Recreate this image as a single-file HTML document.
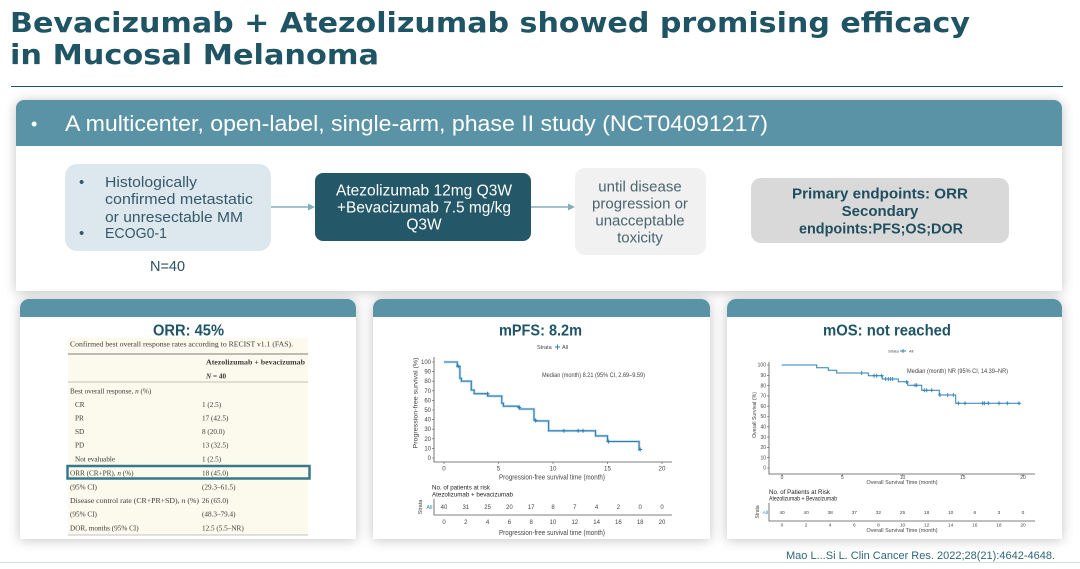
<!DOCTYPE html>
<html>
<head>
<meta charset="utf-8">
<style>
*{margin:0;padding:0;box-sizing:border-box}
html,body{width:1080px;height:569px;background:#ffffff;overflow:hidden}
body{position:relative;font-family:"Liberation Sans",sans-serif}
.abs{position:absolute}
.panel{position:absolute;background:#fff;box-shadow:0 1px 12px rgba(0,0,0,0.24);border-radius:9px 9px 0 0}
.hdr{position:absolute;left:0;top:0;right:0;background:#5b93a6;border-radius:9px 9px 0 0}
svg{position:absolute;left:0;top:0}
</style>
</head>
<body>
<!-- title underline -->
<div class="abs" style="left:11px;top:85.5px;width:1052px;height:1.6px;background:#1f5464"></div>

<!-- top panel -->
<div class="panel" style="left:16px;top:100px;width:1046px;height:191px;border-radius:8px 8px 0 0">
  <div class="hdr" style="height:46px;border-radius:8px 8px 0 0"></div>
</div>

<!-- flow boxes -->
<div class="abs" style="left:65px;top:164px;width:206px;height:87px;background:#dde8ee;border-radius:12px"></div>
<div class="abs" style="left:315px;top:173px;width:216px;height:68px;background:#245767;border-radius:8px"></div>
<div class="abs" style="left:575px;top:168px;width:131px;height:87px;background:#f1f1f1;border-radius:10px"></div>
<div class="abs" style="left:751px;top:178px;width:258px;height:65px;background:#d9d9d9;border-radius:10px"></div>

<!-- bottom panels -->
<div class="panel" style="left:20px;top:299px;width:336px;height:240px"><div class="hdr" style="height:18px"></div></div>
<div class="panel" style="left:373px;top:299px;width:337px;height:240px"><div class="hdr" style="height:18px"></div></div>
<div class="panel" style="left:727px;top:299px;width:335px;height:240px"><div class="hdr" style="height:18px"></div></div>

<!-- footer line -->
<div class="abs" style="left:0;top:561.5px;width:1080px;height:1px;background:#d6dde0"></div>

<svg width="1080" height="569" viewBox="0 0 1080 569" xmlns="http://www.w3.org/2000/svg">
  <!-- Title -->
  <g font-family="DejaVu Sans, sans-serif" font-weight="bold" font-size="28" fill="#1f5464">
    <text x="10" y="32" textLength="960" lengthAdjust="spacingAndGlyphs">Bevacizumab + Atezolizumab showed promising efficacy</text>
    <text x="10" y="64" textLength="369" lengthAdjust="spacingAndGlyphs">in Mucosal Melanoma</text>
  </g>

  <!-- Top header text -->
  <g font-family="Liberation Sans, sans-serif" fill="#ffffff">
    <text x="31" y="130" font-size="18">•</text>
    <text x="65" y="131" font-size="22.5" textLength="703" lengthAdjust="spacingAndGlyphs">A multicenter, open-label, single-arm, phase II study (NCT04091217)</text>
  </g>

  <!-- Box 1 -->
  <g font-family="Liberation Sans, sans-serif" font-size="15" fill="#35596a">
    <text x="79" y="187">•</text>
    <text x="105" y="187" textLength="92" lengthAdjust="spacingAndGlyphs">Histologically</text>
    <text x="105" y="204" textLength="148" lengthAdjust="spacingAndGlyphs">confirmed  metastatic</text>
    <text x="105" y="222" textLength="138" lengthAdjust="spacingAndGlyphs">or unresectable MM</text>
    <text x="79" y="238">•</text>
    <text x="105" y="238" textLength="62" lengthAdjust="spacingAndGlyphs">ECOG0-1</text>
    <text x="150" y="271" textLength="35" lengthAdjust="spacingAndGlyphs" fill="#2e5060">N=40</text>
  </g>

  <!-- arrows -->
  <g stroke="#85adbb" stroke-width="1.5" fill="#85adbb">
    <line x1="271" y1="207" x2="309" y2="207"/>
    <polygon points="308,203.5 315,207 308,210.5" stroke="none"/>
    <line x1="531" y1="207" x2="569" y2="207"/>
    <polygon points="568,203.5 575,207 568,210.5" stroke="none"/>
  </g>

  <!-- Box 2 -->
  <g font-family="Liberation Sans, sans-serif" font-size="15.5" fill="#ffffff" text-anchor="middle">
    <text x="424" y="195.5" textLength="176" lengthAdjust="spacingAndGlyphs">Atezolizumab 12mg Q3W</text>
    <text x="424" y="212.5" textLength="174" lengthAdjust="spacingAndGlyphs">+Bevacizumab 7.5 mg/kg</text>
    <text x="424" y="229.5">Q3W</text>
  </g>

  <!-- Box 3 -->
  <g font-family="Liberation Sans, sans-serif" font-size="15" fill="#4a6470" text-anchor="middle">
    <text x="640" y="191.5">until disease</text>
    <text x="640" y="208.5">progression or</text>
    <text x="640" y="225.5">unacceptable</text>
    <text x="640" y="242.5">toxicity</text>
  </g>

  <!-- Box 4 -->
  <g font-family="Liberation Sans, sans-serif" font-size="15" font-weight="bold" fill="#1f4e5e" text-anchor="middle">
    <text x="880" y="198.5" textLength="176" lengthAdjust="spacingAndGlyphs">Primary endpoints: ORR</text>
    <text x="880" y="216">Secondary</text>
    <text x="881" y="233.5" textLength="164" lengthAdjust="spacingAndGlyphs">endpoints:PFS;OS;DOR</text>
  </g>

  <!-- Panel titles -->
  <g font-family="Liberation Sans, sans-serif" font-size="15.5" font-weight="bold" fill="#1f5466" text-anchor="middle">
    <text x="188.5" y="335.5" textLength="71" lengthAdjust="spacingAndGlyphs">ORR: 45%</text>
    <text x="540.5" y="335.5" textLength="83" lengthAdjust="spacingAndGlyphs">mPFS: 8.2m</text>
    <text x="887" y="335.5" textLength="128" lengthAdjust="spacingAndGlyphs">mOS: not reached</text>
  </g>

  <!-- ORR Table -->
  <rect x="68" y="338" width="240" height="197" fill="#fcfaec"/>
  <g font-family="Liberation Serif, serif" font-size="7.2" fill="#3a3a3a">
    <text x="70" y="346.5" textLength="223" lengthAdjust="spacingAndGlyphs">Confirmed best overall response rates according to RECIST v1.1 (FAS).</text>
    <line x1="68" y1="354" x2="308" y2="354" stroke="#555" stroke-width="0.8"/>
    <text x="206" y="364.5" font-weight="bold" textLength="99" lengthAdjust="spacingAndGlyphs">Atezolizumab + bevacizumab</text>
    <text x="206" y="378.5" font-weight="bold"><tspan font-style="italic">N</tspan> = 40</text>
    <line x1="68" y1="382" x2="308" y2="382" stroke="#888" stroke-width="0.6"/>
    <text x="70" y="393.5">Best overall response, <tspan font-style="italic">n</tspan> (%)</text>
    <text x="75" y="407">CR</text><text x="202" y="407">1 (2.5)</text>
    <text x="75" y="420.5">PR</text><text x="202" y="420.5">17 (42.5)</text>
    <text x="75" y="434">SD</text><text x="202" y="434">8 (20.0)</text>
    <text x="75" y="447.5">PD</text><text x="202" y="447.5">13 (32.5)</text>
    <text x="75" y="461.5">Not evaluable</text><text x="202" y="461.5">1 (2.5)</text>
    <text x="70" y="475.5">ORR (CR+PR), <tspan font-style="italic">n</tspan> (%)</text><text x="202" y="475.5">18 (45.0)</text>
    <text x="70" y="489.5">(95% CI)</text><text x="202" y="489.5">(29.3–61.5)</text>
    <text x="70" y="503" textLength="129" lengthAdjust="spacingAndGlyphs">Disease control rate (CR+PR+SD), <tspan font-style="italic">n</tspan> (%)</text><text x="202" y="503">26 (65.0)</text>
    <text x="70" y="516.5">(95% CI)</text><text x="202" y="516.5">(48.3–79.4)</text>
    <text x="70" y="530.5">DOR, months (95% CI)</text><text x="202" y="530.5">12.5 (5.5–NR)</text>
    <line x1="68" y1="535" x2="308" y2="535" stroke="#888" stroke-width="0.6"/>
  </g>
  <rect x="67.5" y="466" width="242" height="12.5" fill="none" stroke="#37788d" stroke-width="2.5"/>

  <!-- ===== mPFS chart ===== -->
  <g font-family="Liberation Sans, sans-serif" fill="#444">
    <text x="537" y="349" font-size="5.5">Strata</text>
    <path d="M555,347 h5 M557.5,344.5 v5" stroke="#2e7fb4" stroke-width="1"/>
    <text x="562" y="349" font-size="5.5">All</text>
    <path d="M434,357 V462 H672" fill="none" stroke="#555" stroke-width="0.8"/>
    <g font-size="6" text-anchor="end">
      <text x="431" y="460">0</text>
      <text x="431" y="450.4">10</text>
      <text x="431" y="440.8">20</text>
      <text x="431" y="431.2">30</text>
      <text x="431" y="421.6">40</text>
      <text x="431" y="412">50</text>
      <text x="431" y="402.4">60</text>
      <text x="431" y="392.8">70</text>
      <text x="431" y="383.2">80</text>
      <text x="431" y="373.6">90</text>
      <text x="431" y="364">100</text>
    </g>
    <path d="M432,458 h2 M432,448.4 h2 M432,438.8 h2 M432,429.2 h2 M432,419.6 h2 M432,410 h2 M432,400.4 h2 M432,390.8 h2 M432,381.2 h2 M432,371.6 h2 M432,362 h2 M444,462 v2 M498.5,462 v2 M553,462 v2 M607.5,462 v2 M662,462 v2" stroke="#555" stroke-width="0.6"/>
    <g font-size="6.2" text-anchor="middle">
      <text x="444" y="470.5">0</text>
      <text x="498.5" y="470.5">5</text>
      <text x="553" y="470.5">10</text>
      <text x="607.5" y="470.5">15</text>
      <text x="662" y="470.5">20</text>
    </g>
    <text x="552" y="479.5" font-size="7" text-anchor="middle" textLength="106" lengthAdjust="spacingAndGlyphs">Progression-free survival time (month)</text>
    <text transform="translate(417.5,403) rotate(-90)" font-size="6.5" text-anchor="middle" textLength="91" lengthAdjust="spacingAndGlyphs">Progression-free survival (%)</text>
    <text x="542" y="377" font-size="6.3" textLength="103" lengthAdjust="spacingAndGlyphs">Median (month) 8.21 (95% CI, 2.69–9.59)</text>
    <text x="432" y="489.5" font-size="6.8" fill="#222" textLength="58" lengthAdjust="spacingAndGlyphs">No. of patients at risk</text>
    <text x="432" y="496.5" font-size="6.8" fill="#222" textLength="81" lengthAdjust="spacingAndGlyphs">Atezolizumab + bevacizumab</text>
    <text transform="translate(422,507) rotate(-90)" font-size="5.5" text-anchor="middle">Strata</text>
    <text x="432.5" y="509" font-size="5.5" fill="#2e7fb4" text-anchor="end">All</text>
    <g font-size="6" text-anchor="middle">
      <text x="444" y="509">40</text>
      <text x="465.8" y="509">31</text>
      <text x="487.6" y="509">25</text>
      <text x="509.4" y="509">20</text>
      <text x="531.2" y="509">17</text>
      <text x="553" y="509">8</text>
      <text x="574.8" y="509">7</text>
      <text x="596.6" y="509">4</text>
      <text x="618.4" y="509">2</text>
      <text x="640.2" y="509">0</text>
      <text x="662" y="509">0</text>
    </g>
    <path d="M434,499 V515 H672" fill="none" stroke="#555" stroke-width="0.8"/>
    <g font-size="6" text-anchor="middle">
      <text x="444" y="524">0</text>
      <text x="465.8" y="524">2</text>
      <text x="487.6" y="524">4</text>
      <text x="509.4" y="524">6</text>
      <text x="531.2" y="524">8</text>
      <text x="553" y="524">10</text>
      <text x="574.8" y="524">12</text>
      <text x="596.6" y="524">14</text>
      <text x="618.4" y="524">16</text>
      <text x="640.2" y="524">18</text>
      <text x="662" y="524">20</text>
    </g>
    <text x="552" y="535" font-size="7" text-anchor="middle" textLength="106" lengthAdjust="spacingAndGlyphs">Progression-free survival time (month)</text>
  </g>
  <path d="M444,362 H457.3 V366.3 H459.9 V378.3 H461.4 V381.2 H471.3 V390.1 H474.2 V393.7 H487.6 V396.1 H501.8 V403.3 H503.4 V406.2 H519.2 V409 H534 V420.1 H535.6 V420.9 H548.6 V430.8 H595.5 V435.9 H607.5 V441.5 H639.1 V449.7 H640.5" fill="none" stroke="#8fc0dd" stroke-width="2.6" opacity="0.6"/>
  <path d="M444,362 H457.3 V366.3 H459.9 V378.3 H461.4 V381.2 H471.3 V390.1 H474.2 V393.7 H487.6 V396.1 H501.8 V403.3 H503.4 V406.2 H519.2 V409 H534 V420.1 H535.6 V420.9 H548.6 V430.8 H595.5 V435.9 H607.5 V441.5 H639.1 V449.7 H640.5" fill="none" stroke="#2e7fb4" stroke-width="1.1"/>
  <path d="M456.2,366.3h4M458.2,364.3v4 M485.6,393.7h4M487.6,391.7v4 M517.2,407.5h4M519.2,405.5v4 M533.6,420.5h4M535.6,418.5v4 M561.9,430.8h4M563.9,428.8v4 M576.1,430.8h4M578.1,428.8v4 M581,430.8h4M583,428.8v4 M606.6,441.5h4M608.6,439.5v4 M638.2,449.5h4M640.2,447.5v4" stroke="#2e7fb4" stroke-width="1"/>

  <!-- ===== mOS chart ===== -->
  <g font-family="Liberation Sans, sans-serif" fill="#444">
    <text x="888" y="352.5" font-size="4">Strata</text>
    <path d="M900,351 h6 M903,349 v4" stroke="#2e7fb4" stroke-width="0.9"/>
    <text x="909" y="352.5" font-size="4">All</text>
    <path d="M769,362 V474 H1035" fill="none" stroke="#555" stroke-width="0.8"/>
    <g font-size="5" text-anchor="end">
      <text x="766" y="469.7">0</text>
      <text x="766" y="459.4">10</text>
      <text x="766" y="449.1">20</text>
      <text x="766" y="438.8">30</text>
      <text x="766" y="428.5">40</text>
      <text x="766" y="418.2">50</text>
      <text x="766" y="407.9">60</text>
      <text x="766" y="397.6">70</text>
      <text x="766" y="387.3">80</text>
      <text x="766" y="377">90</text>
      <text x="766" y="366.7">100</text>
    </g>
    <path d="M767,468 h2 M767,457.7 h2 M767,447.4 h2 M767,437.1 h2 M767,426.8 h2 M767,416.5 h2 M767,406.2 h2 M767,395.9 h2 M767,385.6 h2 M767,375.3 h2 M767,365 h2 M782,474 v2 M842.3,474 v2 M902.5,474 v2 M962.8,474 v2 M1023,474 v2" stroke="#555" stroke-width="0.6"/>
    <g font-size="5" text-anchor="middle">
      <text x="782" y="479">0</text>
      <text x="842.3" y="479">5</text>
      <text x="902.5" y="479">10</text>
      <text x="962.8" y="479">15</text>
      <text x="1023" y="479">20</text>
    </g>
    <text x="902" y="484" font-size="5.5" text-anchor="middle" textLength="71" lengthAdjust="spacingAndGlyphs">Overall Survival Time (month)</text>
    <text transform="translate(756,415) rotate(-90)" font-size="5.5" text-anchor="middle" textLength="46" lengthAdjust="spacingAndGlyphs">Overall Survival (%)</text>
    <text x="907" y="373" font-size="6.3" textLength="101" lengthAdjust="spacingAndGlyphs">Median (month) NR (95% CI, 14.39–NR)</text>
    <text x="769" y="494" font-size="6.5" fill="#222" textLength="61" lengthAdjust="spacingAndGlyphs">No. of Patients at Risk</text>
    <text x="769" y="500.5" font-size="6.5" fill="#222" textLength="68" lengthAdjust="spacingAndGlyphs">Atezolizumab  + Bevacizumab</text>
    <text transform="translate(759,512) rotate(-90)" font-size="5" text-anchor="middle">Strata</text>
    <text x="768" y="514" font-size="4.8" fill="#2e7fb4" text-anchor="end">All</text>
    <g font-size="4.8" text-anchor="middle">
      <text x="782" y="514">40</text>
      <text x="806.1" y="514">40</text>
      <text x="830.2" y="514">38</text>
      <text x="854.3" y="514">37</text>
      <text x="878.4" y="514">32</text>
      <text x="902.5" y="514">25</text>
      <text x="926.6" y="514">18</text>
      <text x="950.7" y="514">10</text>
      <text x="974.8" y="514">6</text>
      <text x="998.9" y="514">3</text>
      <text x="1023" y="514">0</text>
    </g>
    <path d="M769,503 V521 H1035" fill="none" stroke="#555" stroke-width="0.8"/>
    <g font-size="4.8" text-anchor="middle">
      <text x="782" y="526.5">0</text>
      <text x="806.1" y="526.5">2</text>
      <text x="830.2" y="526.5">4</text>
      <text x="854.3" y="526.5">6</text>
      <text x="878.4" y="526.5">8</text>
      <text x="902.5" y="526.5">10</text>
      <text x="926.6" y="526.5">12</text>
      <text x="950.7" y="526.5">14</text>
      <text x="974.8" y="526.5">16</text>
      <text x="998.9" y="526.5">18</text>
      <text x="1023" y="526.5">20</text>
    </g>
    <text x="902" y="532" font-size="5.5" text-anchor="middle" textLength="71" lengthAdjust="spacingAndGlyphs">Overall Survival Time (month)</text>
  </g>
  <path d="M781.7,365 H816.7 V367.7 H828.3 V370.3 H836.7 V373 H868.3 V375.7 H882.3 V379 H898.3 V381.7 H907.7 V385.3 H921.7 V390.3 H939.3 V395 H955.7 V403.3 H1020" fill="none" stroke="#2e7fb4" stroke-width="1"/>
  <path d="M859.7,373h4M861.7,371v4 M872,375.7h4M874,373.7v4 M874.7,375.7h4M876.7,373.7v4 M879.7,375.7h4M881.7,373.7v4 M883.7,379h4M885.7,377v4 M886.3,379h4M888.3,377v4 M888.7,379h4M890.7,377v4 M890.7,379h4M892.7,377v4 M904.7,382h4M906.7,380v4 M913,385.3h4M915,383.3v4 M914.7,385.3h4M916.7,383.3v4 M922.3,390.3h4M924.3,388.3v4 M924.7,390.3h4M926.7,388.3v4 M929.7,390.3h4M931.7,388.3v4 M938,395h4M940,393v4 M945.7,395h4M947.7,393v4 M951.3,395h4M953.3,393v4 M956.3,403.3h4M958.3,401.3v4 M963,403.3h4M965,401.3v4 M980.7,403.3h4M982.7,401.3v4 M982.3,403.3h4M984.3,401.3v4 M986.3,403.3h4M988.3,401.3v4 M997,403.3h4M999,401.3v4 M1005.3,403.3h4M1007.3,401.3v4 M1017,403.3h4M1019,401.3v4" stroke="#2e7fb4" stroke-width="0.9"/>

  <!-- Citation -->
  <text x="1055" y="559" font-family="Liberation Sans, sans-serif" font-size="11" fill="#2e6577" text-anchor="end" textLength="269" lengthAdjust="spacingAndGlyphs">Mao L...Si L. Clin Cancer Res. 2022;28(21):4642-4648.</text>
</svg>
</body>
</html>
